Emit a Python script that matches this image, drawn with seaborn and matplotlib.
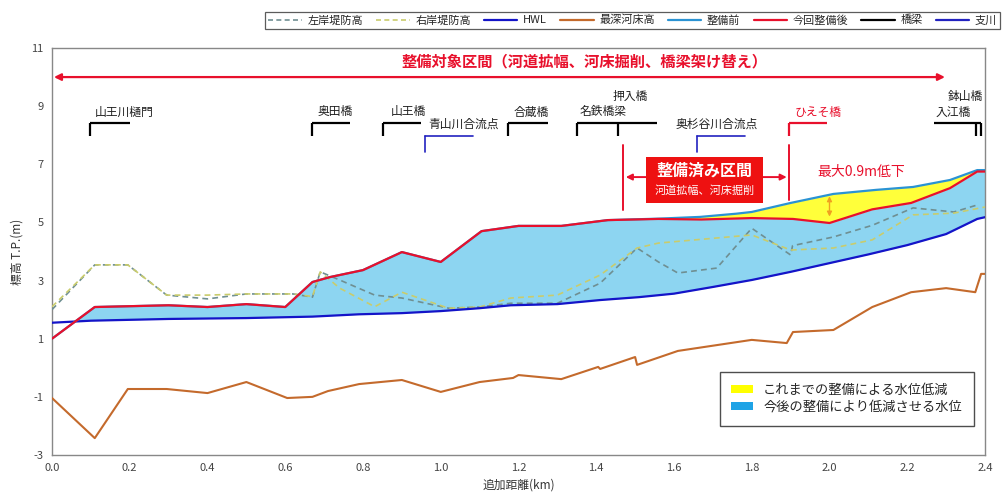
import numpy as np
import matplotlib
matplotlib.use("Agg")
import matplotlib.pyplot as plt
from matplotlib.lines import Line2D
from matplotlib.patches import Patch, Rectangle
import seaborn as sns

# ---------------- data ----------------
hwl_km = [0.0, 0.1, 0.3, 0.5, 0.67, 0.79, 0.9, 1.0, 1.1, 1.18, 1.3, 1.41, 1.51, 1.6, 1.7, 1.8, 1.9, 2.0, 2.1, 2.2, 2.3, 2.38, 2.4]
hwl = [1.55, 1.62, 1.68, 1.71, 1.76, 1.84, 1.88, 1.95, 2.05, 2.15, 2.19, 2.33, 2.43, 2.55, 2.78, 3.02, 3.3, 3.6, 3.9, 4.22, 4.6, 5.12, 5.18]

after_km = [0.0, 0.11, 0.3, 0.4, 0.5, 0.6, 0.67, 0.715, 0.8, 0.9, 1.0, 1.105, 1.2, 1.31, 1.43, 1.56, 1.67, 1.80, 1.906, 2.0, 2.11, 2.21, 2.31, 2.38, 2.4]
after = [1.0, 2.09, 2.15, 2.09, 2.19, 2.09, 2.95, 3.12, 3.36, 3.98, 3.64, 4.7, 4.88, 4.88, 5.08, 5.12, 5.1, 5.15, 5.12, 4.98, 5.45, 5.67, 6.18, 6.75, 6.75]

before_km = [0.0, 0.11, 0.3, 0.4, 0.5, 0.6, 0.67, 0.715, 0.8, 0.9, 1.0, 1.105, 1.2, 1.31, 1.43, 1.56, 1.667, 1.76, 1.80, 1.90, 2.01, 2.12, 2.215, 2.31, 2.38, 2.4]
before = [1.0, 2.09, 2.15, 2.09, 2.19, 2.09, 2.95, 3.12, 3.36, 3.98, 3.64, 4.7, 4.88, 4.88, 5.08, 5.13, 5.19, 5.3, 5.36, 5.67, 5.98, 6.12, 6.22, 6.46, 6.8, 6.8]

left_km = [0.0, 0.11, 0.195, 0.295, 0.4, 0.5, 0.62, 0.67, 0.69, 0.74, 0.83, 0.90, 1.02, 1.1, 1.18, 1.30, 1.41, 1.505, 1.56, 1.61, 1.71, 1.80, 1.90, 1.905, 2.01, 2.11, 2.215, 2.32, 2.38]
left_bank = [2.0, 3.54, 3.54, 2.5, 2.37, 2.54, 2.54, 2.43, 3.3, 3.02, 2.5, 2.4, 2.05, 2.09, 2.22, 2.22, 2.91, 4.12, 3.64, 3.26, 3.43, 4.8, 3.88, 4.2, 4.5, 4.9, 5.5, 5.36, 5.6]

right_km = [0.0, 0.11, 0.195, 0.295, 0.4, 0.5, 0.62, 0.67, 0.69, 0.74, 0.83, 0.90, 1.02, 1.1, 1.18, 1.30, 1.41, 1.505, 1.56, 1.80, 1.90, 2.01, 2.11, 2.215, 2.32, 2.40]
right_bank = [2.1, 3.54, 3.54, 2.5, 2.5, 2.54, 2.54, 2.45, 3.3, 2.74, 2.1, 2.6, 2.05, 2.09, 2.4, 2.5, 3.19, 4.12, 4.29, 4.57, 4.05, 4.12, 4.4, 5.26, 5.32, 5.53]

bed_km = [0.0, 0.11, 0.195, 0.295, 0.40, 0.50, 0.605, 0.67, 0.71, 0.79, 0.90, 1.0, 1.10, 1.186, 1.20, 1.31, 1.405, 1.41, 1.50, 1.505, 1.61, 1.80, 1.89, 1.906, 2.01, 2.11, 2.21, 2.30, 2.375, 2.39, 2.40]
bed = [-1.04, -2.42, -0.73, -0.73, -0.87, -0.49, -1.04, -1.0, -0.8, -0.56, -0.42, -0.83, -0.49, -0.35, -0.25, -0.39, 0.03, -0.04, 0.37, 0.1, 0.58, 0.96, 0.85, 1.23, 1.3, 2.09, 2.6, 2.74, 2.6, 3.23, 3.23]

bridge_names = ["山王川樋門", "奥田橋", "山王橋", "合蔵橋", "名鉄橋梁", "入江橋"]
bridge_start = [0.098, 0.67, 0.852, 1.173, 1.35, 2.27]
bridge_end = [0.20, 0.767, 0.95, 1.276, 1.556, 2.39]
bridge_piers = [[0.098], [0.67], [0.852], [1.173], [1.35, 1.456], [2.377, 2.39]]
bridge_label_x = [0.185, 0.728, 0.916, 1.232, 1.418, 2.318]

extra_bridge_names = ["押入橋", "鉢山橋"]
extra_bridge_x = [1.487, 2.349]

new_bridge_name = "ひえそ橋"
new_bridge_start, new_bridge_end = 1.896, 1.993

trib_names = ["青山川合流点", "奥杉谷川合流点"]
trib_start = [0.96, 1.66]
trib_end = [1.083, 1.783]
trib_label_x = [1.058, 1.711]

x_ticks = [0.0, 0.2, 0.4, 0.6, 0.8, 1.0, 1.2, 1.4, 1.6, 1.8, 2.0, 2.2, 2.4]
y_ticks = [-3, -1, 1, 3, 5, 7, 9, 11]

# ---------------- style ----------------
sns.set_style("white")
plt.rcParams['font.family'] = ['Noto Sans CJK JP', 'DejaVu Sans']

C_LEFT = "#6f8f92"
C_RIGHT = "#c9cc6c"
C_HWL = "#1414c8"
C_BED = "#c46a2c"
C_BEFORE = "#2a93d3"
C_AFTER = "#e8102c"
C_TRIB = "#2222c0"
C_RED = "#e8102c"

fig = plt.figure(figsize=(10.08, 4.98), dpi=100)
ax = fig.add_axes([52/1008, 1-455/498, 933/1008, 407/498])

# fills
grid = np.union1d(np.union1d(after_km, before_km), np.union1d(hwl_km, np.linspace(0, 2.4, 481)))
hwl_i = np.interp(grid, hwl_km, hwl)
after_i = np.interp(grid, after_km, after)
before_i = np.interp(grid, before_km, before)
ax.fill_between(grid, hwl_i, after_i, where=after_i >= hwl_i, interpolate=True,
                color="#8dd5f1", linewidth=0, zorder=1)
ax.fill_between(grid, after_i, before_i, where=before_i >= after_i, interpolate=True,
                color="#ffff3a", linewidth=0, zorder=1)

# lines
sns.lineplot(x=left_km, y=left_bank, ax=ax, color=C_LEFT, linestyle=(0, (3.5, 2.5)), linewidth=1.2, estimator=None, sort=False, zorder=3)
sns.lineplot(x=right_km, y=right_bank, ax=ax, color=C_RIGHT, linestyle=(0, (3.5, 2.5)), linewidth=1.2, estimator=None, sort=False, zorder=3)
sns.lineplot(x=hwl_km, y=hwl, ax=ax, color=C_HWL, linewidth=1.6, estimator=None, sort=False, zorder=4)
sns.lineplot(x=bed_km, y=bed, ax=ax, color=C_BED, linewidth=1.5, estimator=None, sort=False, zorder=4)
sns.lineplot(x=before_km, y=before, ax=ax, color=C_BEFORE, linewidth=1.6, estimator=None, sort=False, zorder=4)
sns.lineplot(x=after_km, y=after, ax=ax, color=C_AFTER, linewidth=1.6, estimator=None, sort=False, zorder=5)

# bridges
deck_y, pier_y = 8.42, 7.97
for name, s, e, piers, lx in zip(bridge_names, bridge_start, bridge_end, bridge_piers, bridge_label_x):
    ax.plot([s, e], [deck_y, deck_y], color="black", linewidth=1.6, solid_capstyle="butt")
    for p in piers:
        ax.plot([p, p], [deck_y, pier_y], color="black", linewidth=1.6, solid_capstyle="butt")
    ax.text(lx, 8.8, name, ha="center", va="center", fontsize=8.5, color="#202020")
for name, lx in zip(extra_bridge_names, extra_bridge_x):
    ax.text(lx, 9.33, name, ha="center", va="center", fontsize=8.5, color="#202020")
ax.plot([new_bridge_start, new_bridge_end], [deck_y, deck_y], color=C_RED, linewidth=1.6, solid_capstyle="butt")
ax.plot([new_bridge_start, new_bridge_start], [deck_y, pier_y], color=C_RED, linewidth=1.6, solid_capstyle="butt")
ax.text(1.97, 8.8, new_bridge_name, ha="center", va="center", fontsize=8.5, color=C_RED)

# tributaries
for name, s, e, lx in zip(trib_names, trib_start, trib_end, trib_label_x):
    ax.plot([s, e], [7.97, 7.97], color=C_TRIB, linewidth=1.2)
    ax.plot([s, s], [7.97, 7.42], color=C_TRIB, linewidth=1.2)
    ax.text(lx, 8.38, name, ha="center", va="center", fontsize=8.5, color="#202020")

# target section arrow
ax.annotate("", xy=(0.005, 10.0), xytext=(2.297, 10.0),
            arrowprops=dict(arrowstyle="<|-|>", color=C_RED, lw=1.6, mutation_scale=10, shrinkA=0, shrinkB=0))
ax.text(1.371, 10.52, "整備対象区間（河道拡幅、河床掘削、橋梁架け替え）", ha="center", va="center",
        fontsize=11, fontweight="bold", color=C_RED)

# completed section
ax.plot([1.47, 1.47], [7.66, 5.43], color=C_RED, linewidth=1.4)
ax.plot([1.896, 1.896], [7.66, 5.77], color=C_RED, linewidth=1.4)
ax.add_patch(Rectangle((1.528, 5.67), 0.301, 1.58, facecolor="#ee1111", edgecolor="none", zorder=6))
ax.text(1.6785, 6.8, "整備済み区間", ha="center", va="center", fontsize=11.5, fontweight="bold", color="white", zorder=7)
ax.text(1.6785, 6.1, "河道拡幅、河床掘削", ha="center", va="center", fontsize=8, color="white", zorder=7)
ax.annotate("", xy=(1.476, 6.56), xytext=(1.528, 6.56),
            arrowprops=dict(arrowstyle="-|>", color=C_RED, lw=1.4, mutation_scale=9, shrinkA=0, shrinkB=0))
ax.annotate("", xy=(1.890, 6.56), xytext=(1.829, 6.56),
            arrowprops=dict(arrowstyle="-|>", color=C_RED, lw=1.4, mutation_scale=9, shrinkA=0, shrinkB=0))

# max reduction
ax.text(1.968, 6.72, "最大0.9m低下", ha="left", va="center", fontsize=10, color=C_RED)
ax.annotate("", xy=(2.0, 5.9), xytext=(2.0, 5.2),
            arrowprops=dict(arrowstyle="<|-|>", color="#f0a020", lw=1.0, mutation_scale=7, shrinkA=0, shrinkB=0), zorder=6)

# axes
ax.set_xlim(0, 2.4)
ax.set_ylim(-3, 11)
ax.set_xticks(x_ticks)
ax.set_xticklabels([f"{t:.1f}" for t in x_ticks])
ax.set_yticks(y_ticks)
ax.set_yticklabels([str(t) for t in y_ticks])
ax.tick_params(axis="both", direction="in", length=4, width=0.8, color="#999999",
               labelsize=8, labelcolor="#444444", pad=6)
for sp in ax.spines.values():
    sp.set_color("#888888")
    sp.set_linewidth(1.0)
ax.set_xlabel("追加距離(km)", fontsize=8.5, color="#333333", labelpad=4)
ax.set_ylabel("標高 T.P.(m)", fontsize=8.5, color="#333333", labelpad=6)

# legends
top_handles = [
    Line2D([], [], color=C_LEFT, linestyle=(0, (3, 2)), linewidth=1.2),
    Line2D([], [], color=C_RIGHT, linestyle=(0, (3, 2)), linewidth=1.2),
    Line2D([], [], color=C_HWL, linewidth=1.6),
    Line2D([], [], color=C_BED, linewidth=1.6),
    Line2D([], [], color=C_BEFORE, linewidth=1.6),
    Line2D([], [], color=C_AFTER, linewidth=1.6),
    Line2D([], [], color="black", linewidth=1.6),
    Line2D([], [], color=C_TRIB, linewidth=1.6),
]
top_labels = ["左岸堤防高", "右岸堤防高", "HWL", "最深河床高", "整備前", "今回整備後", "橋梁", "支川"]
leg_top = fig.legend(top_handles, top_labels, loc="upper right", bbox_to_anchor=(0.998, 0.988),
                     ncol=8, fontsize=8, frameon=True, fancybox=False, edgecolor="#333333",
                     handlelength=3.0, columnspacing=1.2, handletextpad=0.5, borderpad=0.3)
leg_top.get_frame().set_linewidth(0.9)

patch_handles = [Patch(facecolor="#ffff00", edgecolor="none"), Patch(facecolor="#1ea3e6", edgecolor="none")]
patch_labels = ["これまでの整備による水位低減", "今後の整備により低減させる水位"]
leg_bot = ax.legend(patch_handles, patch_labels, loc="lower right", bbox_to_anchor=(0.995, 0.056),
                    fontsize=9.5, frameon=True, fancybox=False, edgecolor="#222222",
                    handlelength=1.6, handleheight=0.6, borderpad=0.9, labelspacing=0.3, handletextpad=0.8)
leg_bot.get_frame().set_linewidth(1.0)

fig.savefig("out.png", dpi=100)
